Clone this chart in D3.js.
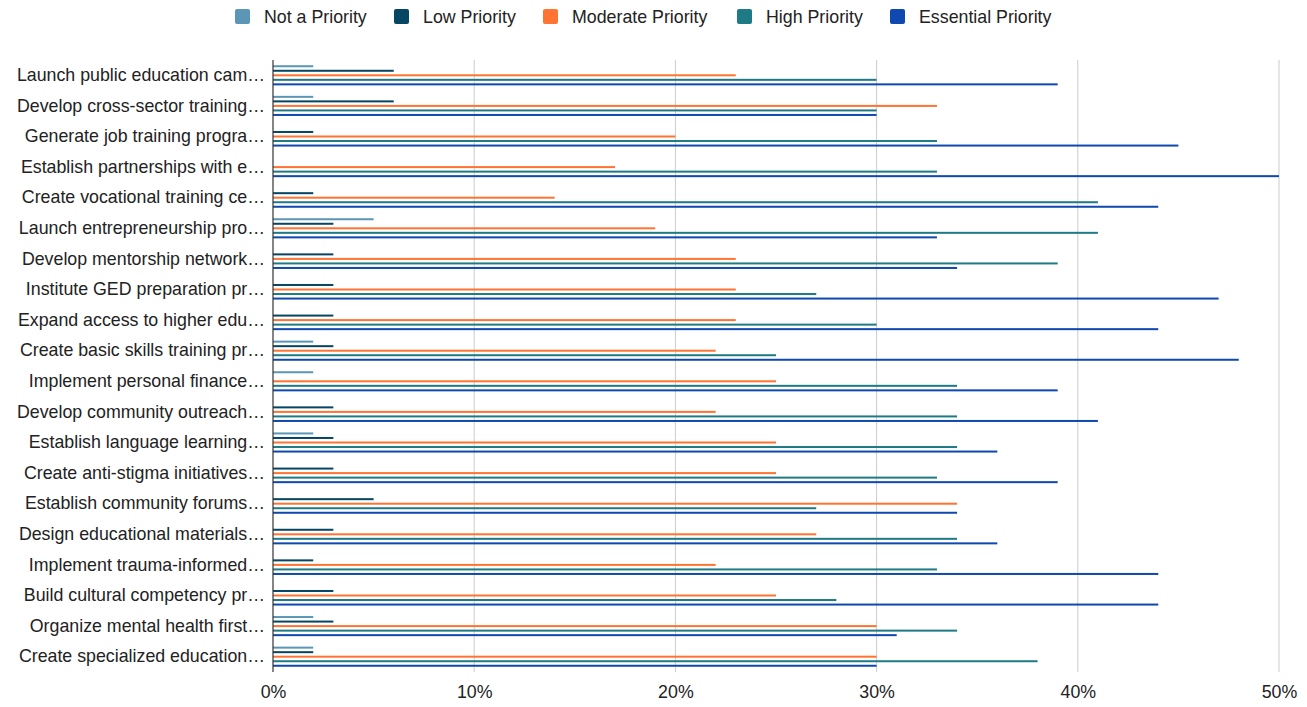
<!DOCTYPE html>
<html>
<head>
<meta charset="utf-8">
<script src="https://cdn.jsdelivr.net/npm/d3@7"></script>
<style>
  body { margin: 0; background: #fff; }
  svg { font-family: "Liberation Sans", Arial, sans-serif; }
</style>
</head>
<body>
<div id="chart"></div>
<script>
var categories = [
  "Launch public education cam\u2026",
  "Develop cross-sector training\u2026",
  "Generate job training progra\u2026",
  "Establish partnerships with e\u2026",
  "Create vocational training ce\u2026",
  "Launch entrepreneurship pro\u2026",
  "Develop mentorship network\u2026",
  "Institute GED preparation pr\u2026",
  "Expand access to higher edu\u2026",
  "Create basic skills training pr\u2026",
  "Implement personal finance\u2026",
  "Develop community outreach\u2026",
  "Establish language learning\u2026",
  "Create anti-stigma initiatives\u2026",
  "Establish community forums\u2026",
  "Design educational materials\u2026",
  "Implement trauma-informed\u2026",
  "Build cultural competency pr\u2026",
  "Organize mental health first\u2026",
  "Create specialized education\u2026"
];
var seriesNames = ["Not a Priority", "Low Priority", "Moderate Priority", "High Priority", "Essential Priority"];
var seriesColors = ["#5b96b6", "#064662", "#ff7433", "#1e7a84", "#0f48ae"];

var notPriority = [2, 2, 0, 0, 0, 5, 0, 0, 0, 2, 2, 0, 2, 0, 0, 0, 0, 0, 2, 2];
var lowPriority = [6, 6, 2, 0, 2, 3, 3, 3, 3, 3, 0, 3, 3, 3, 5, 3, 2, 3, 3, 2];
var moderatePriority = [23, 33, 20, 17, 14, 19, 23, 23, 23, 22, 25, 22, 25, 25, 34, 27, 22, 25, 30, 30];
var highPriority = [30, 30, 33, 33, 41, 41, 39, 27, 30, 25, 34, 34, 34, 33, 27, 34, 33, 28, 34, 38];
var essentialPriority = [39, 30, 45, 50, 44, 33, 34, 47, 44, 48, 39, 41, 36, 39, 34, 36, 44, 44, 31, 30];

var xTicks = [0, 10, 20, 30, 40, 50];

var allSeries = [notPriority, lowPriority, moderatePriority, highPriority, essentialPriority];

var W = 1307, H = 707;
var mLeft = 273, mRight = 1279, mTop = 60, mBottom = 672;
var fontSize = 17.8;

var svg = d3.select("#chart").append("svg")
  .attr("width", W)
  .attr("height", H);

var x = d3.scaleLinear().domain([0, 50]).range([mLeft, mRight]);
var y = d3.scaleBand().domain(categories).range([mTop, mBottom])
  .paddingInner(0.26).paddingOuter(0.13);
var ySub = d3.scaleBand().domain(d3.range(seriesNames.length)).range([0, y.bandwidth()]);

// gridlines
svg.append("g")
  .selectAll("line")
  .data(xTicks.slice(1))
  .enter()
  .append("line")
  .attr("x1", function(d){ return x(d); })
  .attr("x2", function(d){ return x(d); })
  .attr("y1", mTop)
  .attr("y2", mBottom)
  .attr("stroke", "#cccccc")
  .attr("stroke-width", 1);

// bars
var bar = 2;
categories.forEach(function(cat, i){
  allSeries.forEach(function(vals, s){
    if (vals[i] <= 0) return;
    svg.append("rect")
      .attr("x", x(0))
      .attr("y", y(cat) + ySub(s) + ySub.bandwidth() / 2 - bar / 2)
      .attr("width", x(vals[i]) - x(0))
      .attr("height", bar)
      .attr("fill", seriesColors[s]);
  });
});

// zero line
svg.append("line")
  .attr("x1", x(0)).attr("x2", x(0))
  .attr("y1", mTop).attr("y2", mBottom)
  .attr("stroke", "#333333")
  .attr("stroke-width", 1.2);

// x labels
var xAxis = d3.axisBottom(x)
  .tickValues(xTicks)
  .tickFormat(function(d){ return d + "%"; })
  .tickSize(0)
  .tickPadding(13);
var gx = svg.append("g")
  .attr("transform", "translate(0," + mBottom + ")")
  .call(xAxis);
gx.select(".domain").remove();
gx.selectAll("text")
  .attr("font-size", fontSize)
  .attr("font-family", "Liberation Sans, Arial, sans-serif")
  .attr("fill", "#222");

// y labels
var yAxis = d3.axisLeft(y).tickSize(0).tickPadding(8);
var gy = svg.append("g")
  .attr("transform", "translate(" + mLeft + ",0)")
  .call(yAxis);
gy.select(".domain").remove();
gy.selectAll("text")
  .attr("font-size", fontSize)
  .attr("font-family", "Liberation Sans, Arial, sans-serif")
  .attr("fill", "#222");

// legend
var legendX = [235, 394, 543, 737, 890];
var legend = svg.append("g")
  .selectAll("g")
  .data(seriesNames)
  .enter()
  .append("g")
  .attr("transform", function(d, i){ return "translate(" + legendX[i] + ",9)"; });
legend.append("rect")
  .attr("width", 15)
  .attr("height", 15)
  .attr("rx", 2)
  .attr("fill", function(d, i){ return seriesColors[i]; });
legend.append("text")
  .attr("x", 29)
  .attr("y", 13.5)
  .attr("font-size", fontSize)
  .attr("fill", "#222")
  .text(function(d){ return d; });
</script>
</body>
</html>
